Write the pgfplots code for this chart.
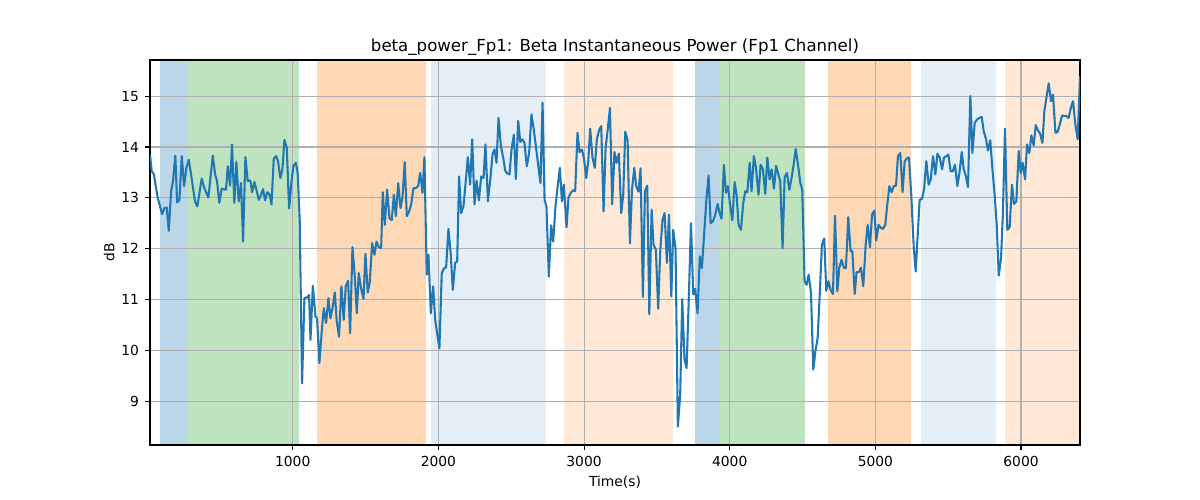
\documentclass[border=0pt]{standalone}
\usepackage{fontspec}
\setmainfont{DejaVu Sans}
\usepackage{pgfplots}
\pgfplotsset{compat=1.18}
\definecolor{tabblue}{HTML}{1F77B4}
\definecolor{tabgreen}{HTML}{2CA02C}
\definecolor{taborange}{HTML}{FF7F0E}
\definecolor{gridgray}{HTML}{B0B0B0}
\pgfplotsset{span/.style={draw=none, on layer=axis background}}
\begin{document}
\begin{tikzpicture}
\begin{axis}[
  set layers,
  at={(0,0)}, anchor=south west,
  scale only axis, width=9.3in, height=3.85in,
  xmin=20, xmax=6405, ymin=8.14, ymax=15.71,
  xtick={1000,2000,3000,4000,5000,6000},
  ytick={9,10,11,12,13,14,15},
  tick pos=left, tick align=outside,
  major tick length=3.5pt,
  every tick/.style={black, line width=0.8pt},
  axis line style={line width=0.8pt},
  grid=major, major grid style={gridgray, line width=0.8pt},
  /pgf/number format/assume math mode=true,
  /pgf/number format/1000 sep={},
  tick label style={font=\fontsize{10}{12}\selectfont},
  xticklabel style={yshift=-1pt},
  yticklabel style={xshift=-1pt},
  xlabel={Time(s)}, ylabel={dB},
  label style={font=\fontsize{10}{12}\selectfont},
  xlabel style={yshift=0pt},
  ylabel style={yshift=-2pt},
  title={beta\_power\_Fp1: Beta Instantaneous Power (Fp1 Channel)},
  title style={font=\fontsize{12}{14}\selectfont, yshift=-6pt},
  clip=true,
]
% shaded segments
\addplot[span, fill=tabblue, fill opacity=0.3] coordinates {(91,8.14)(91,15.71)(281,15.71)(281,8.14)} -- cycle;
\addplot[span, fill=tabgreen, fill opacity=0.3] coordinates {(281,8.14)(281,15.71)(1041,15.71)(1041,8.14)} -- cycle;
\addplot[span, fill=taborange, fill opacity=0.3] coordinates {(1167,8.14)(1167,15.71)(1918,15.71)(1918,8.14)} -- cycle;
\addplot[span, fill=tabblue, fill opacity=0.12] coordinates {(1946,8.14)(1946,15.71)(2736,15.71)(2736,8.14)} -- cycle;
\addplot[span, fill=taborange, fill opacity=0.17] coordinates {(2859,8.14)(2859,15.71)(3612,15.71)(3612,8.14)} -- cycle;
\addplot[span, fill=tabblue, fill opacity=0.3] coordinates {(3759,8.14)(3759,15.71)(3926,15.71)(3926,8.14)} -- cycle;
\addplot[span, fill=tabgreen, fill opacity=0.3] coordinates {(3926,8.14)(3926,15.71)(4514,15.71)(4514,8.14)} -- cycle;
\addplot[span, fill=taborange, fill opacity=0.3] coordinates {(4672,8.14)(4672,15.71)(5247,15.71)(5247,8.14)} -- cycle;
\addplot[span, fill=tabblue, fill opacity=0.12] coordinates {(5311,8.14)(5311,15.71)(5826,15.71)(5826,8.14)} -- cycle;
\addplot[span, fill=taborange, fill opacity=0.17] coordinates {(5888,8.14)(5888,15.71)(6405,15.71)(6405,8.14)} -- cycle;
% signal
\addplot[tabblue, line width=1.5pt, line join=round, mark=none] coordinates {
(20,13.85)(32,13.52)(46,13.47)(73,13.00)(103,12.68)(119,12.80)(135,12.81)(149,12.35)(165,13.13)(178,13.33)
(194,13.83)(206,12.91)(222,12.96)(238,13.82)(254,13.23)(270,13.59)(286,13.75)(302,13.46)(329,12.93)(345,12.83)
(375,13.38)(393,13.19)(421,13.01)(451,13.83)(467,13.46)(480,13.33)(496,12.90)(512,13.18)(542,13.16)(554,13.62)
(570,13.24)(583,14.05)(599,12.90)(613,13.71)(629,12.93)(645,13.29)(659,12.14)(675,13.80)(691,13.33)(709,13.34)
(721,13.11)(737,13.31)(753,13.13)(767,12.96)(783,13.06)(796,13.17)(810,12.95)(826,13.11)(842,13.06)(854,12.87)
(870,13.77)(886,13.82)(899,13.72)(915,13.39)(929,13.56)(943,14.14)(959,13.98)(975,12.79)(991,13.31)(1005,13.63)
(1021,13.69)(1034,13.49)(1048,12.54)(1064,9.35)(1080,11.03)(1098,11.04)(1112,11.09)(1122,10.21)(1138,11.27)(1156,10.67)
(1167,10.63)(1183,9.75)(1199,10.37)(1213,10.83)(1229,10.54)(1245,11.03)(1259,10.63)(1275,10.86)(1289,11.14)(1302,10.57)
(1318,10.27)(1334,11.26)(1350,10.60)(1364,11.26)(1380,11.37)(1394,10.34)(1410,12.03)(1426,11.45)(1440,10.73)(1453,11.52)
(1469,11.22)(1486,11.01)(1499,11.90)(1515,11.14)(1529,11.35)(1545,12.11)(1561,11.88)(1575,12.14)(1591,12.03)(1607,12.01)
(1618,13.11)(1632,12.47)(1648,13.16)(1664,12.60)(1680,12.56)(1694,13.06)(1708,12.64)(1724,13.29)(1740,12.80)(1753,13.00)
(1769,13.70)(1783,12.64)(1799,12.73)(1813,12.87)(1829,13.19)(1845,13.19)(1861,13.23)(1875,13.49)(1891,13.10)(1904,13.80)
(1920,11.49)(1932,11.88)(1948,10.73)(1964,11.26)(1978,10.60)(1991,10.34)(2007,10.04)(2023,11.52)(2040,11.62)(2053,11.63)
(2069,12.39)(2085,11.88)(2099,11.19)(2115,11.72)(2129,11.75)(2142,13.42)(2156,12.70)(2172,12.83)(2188,13.33)(2202,13.80)
(2218,13.26)(2232,14.15)(2248,12.87)(2262,13.34)(2278,12.95)(2294,13.42)(2310,13.39)(2323,14.05)(2340,12.93)(2356,13.36)
(2372,13.86)(2385,13.95)(2399,13.69)(2413,14.57)(2429,14.02)(2445,13.79)(2458,13.54)(2472,13.48)(2488,13.46)(2502,13.95)
(2518,14.24)(2532,13.37)(2548,14.51)(2562,14.10)(2578,14.15)(2591,14.08)(2607,13.62)(2623,13.88)(2639,14.64)(2653,14.38)
(2669,14.02)(2685,13.65)(2701,13.29)(2715,14.87)(2729,12.96)(2742,12.83)(2758,11.45)(2774,12.46)(2788,12.14)(2804,12.83)
(2818,13.21)(2834,13.59)(2848,12.93)(2861,13.26)(2880,12.42)(2893,13.00)(2909,13.10)(2926,13.15)(2939,13.13)(2955,14.28)
(2969,13.90)(2985,13.95)(2999,13.79)(3015,13.39)(3029,13.72)(3042,14.36)(3058,13.79)(3074,13.59)(3088,14.15)(3104,14.34)
(3118,14.41)(3134,12.73)(3148,13.98)(3164,14.38)(3178,14.77)(3193,12.87)(3209,13.90)(3223,13.69)(3239,13.87)(3255,12.70)
(3269,13.06)(3283,14.30)(3299,14.13)(3315,12.10)(3329,13.16)(3345,13.59)(3358,13.23)(3374,13.12)(3388,13.58)(3404,11.05)
(3418,13.13)(3434,13.24)(3448,10.71)(3464,12.77)(3477,12.08)(3493,11.98)(3509,10.82)(3523,11.95)(3539,12.57)(3553,12.70)
(3569,11.72)(3583,12.67)(3599,11.06)(3612,12.37)(3628,12.01)(3644,8.50)(3660,9.12)(3674,11.01)(3690,9.81)(3704,9.65)
(3720,11.10)(3734,12.50)(3750,11.10)(3763,11.21)(3779,10.73)(3795,11.85)(3809,11.62)(3825,12.31)(3839,12.93)(3855,13.44)
(3869,12.50)(3885,12.54)(3901,12.67)(3917,12.88)(3931,12.70)(3944,12.59)(3960,13.65)(3974,13.10)(3988,13.23)(4001,12.90)
(4018,12.56)(4034,13.31)(4047,13.06)(4061,12.47)(4077,12.37)(4093,12.90)(4107,13.13)(4121,13.11)(4137,13.69)(4150,13.13)
(4166,13.82)(4180,13.59)(4198,13.06)(4212,13.65)(4228,13.56)(4244,13.08)(4258,13.79)(4274,13.36)(4288,13.56)(4304,13.18)
(4318,13.63)(4334,13.46)(4347,13.33)(4363,12.01)(4377,13.40)(4393,13.49)(4409,13.16)(4423,13.36)(4439,13.65)(4453,13.96)
(4469,13.65)(4485,13.29)(4498,13.16)(4514,11.36)(4528,11.29)(4542,11.49)(4558,11.13)(4574,9.62)(4588,9.98)(4604,10.25)
(4620,11.22)(4633,12.08)(4649,12.20)(4663,11.17)(4677,11.36)(4693,11.19)(4709,11.11)(4723,12.65)(4739,11.16)(4752,11.62)
(4768,11.78)(4784,11.62)(4798,11.62)(4814,12.62)(4830,11.95)(4842,11.95)(4858,11.11)(4871,11.54)(4887,11.54)(4901,11.63)
(4917,11.26)(4933,12.05)(4947,12.47)(4963,12.03)(4977,12.67)(4993,12.75)(5006,12.16)(5022,12.47)(5038,12.41)(5052,12.39)
(5068,12.47)(5082,12.87)(5096,13.23)(5112,13.11)(5126,13.23)(5142,13.24)(5155,13.82)(5171,13.88)(5187,13.11)(5201,13.72)
(5221,13.79)(5231,13.79)(5247,13.03)(5263,12.05)(5277,11.55)(5288,12.14)(5304,12.96)(5320,12.98)(5334,13.16)(5350,13.72)
(5366,13.26)(5380,13.36)(5396,13.82)(5412,13.46)(5426,13.87)(5442,13.79)(5458,13.56)(5471,13.79)(5487,13.82)(5501,13.85)
(5517,13.52)(5531,13.52)(5547,13.65)(5563,13.23)(5577,13.49)(5593,13.90)(5606,13.57)(5622,13.42)(5636,13.21)(5652,15.00)
(5666,13.88)(5682,14.47)(5698,14.54)(5714,14.57)(5730,14.59)(5744,14.31)(5760,14.15)(5773,13.93)(5789,14.13)(5803,13.59)
(5819,13.06)(5833,12.47)(5847,11.47)(5863,11.82)(5876,12.73)(5890,14.36)(5906,12.37)(5922,12.42)(5938,13.26)(5952,12.88)
(5968,12.93)(5984,13.92)(5998,13.49)(6011,13.69)(6028,13.36)(6041,14.05)(6057,13.88)(6071,14.23)(6087,14.03)(6101,14.43)
(6114,14.34)(6131,14.26)(6147,14.08)(6160,14.70)(6176,15.00)(6190,15.25)(6206,14.90)(6220,15.03)(6236,14.28)(6250,14.29)
(6266,14.44)(6282,14.62)(6298,14.61)(6311,14.61)(6327,14.57)(6343,14.78)(6357,14.90)(6373,14.44)(6389,14.15)(6405,15.39)
};
\end{axis}
\pgfresetboundingbox
\path[use as bounding box] (-1.5in,-0.55in) rectangle (10.5in,4.45in);
\end{tikzpicture}
\end{document}
